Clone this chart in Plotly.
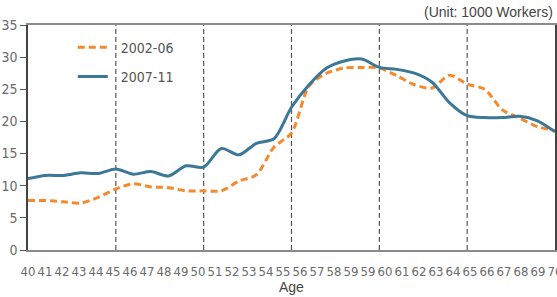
import plotly.graph_objects as go

ages = list(range(40, 71))
s0206 = [7.7, 7.7, 7.5, 7.3, 8.2, 9.5, 10.3, 9.8, 9.7, 9.2, 9.2, 9.2, 10.7, 11.7, 16.0,
         18.2, 25.5, 27.5, 28.3, 28.4, 28.3, 27.1, 25.7, 25.2, 27.2, 25.8, 25.0, 21.8, 20.5, 19.2, 18.6]
s0711 = [11.1, 11.6, 11.6, 12.0, 11.9, 12.6, 11.8, 12.2, 11.5, 13.1, 12.9, 15.8, 14.8, 16.6, 17.3,
         22.2, 25.7, 28.3, 29.4, 29.7, 28.4, 28.1, 27.5, 26.1, 22.9, 20.9, 20.6, 20.6, 20.8, 20.1, 18.4]
tick_labels = ["40", "41", "42", "43", "44", "45", "46", "47", "48", "49", "50", "51", "52", "53",
               "54", "55", "56", "57", "58", "59", "59", "60", "61", "62", "63", "64", "65", "66",
               "67", "68", "69", "70"]
divider_ages = [45, 50, 55, 60, 65]

n = len(tick_labels)
tick_vals = [round(40 + i * 30 / (n - 1), 6) for i in range(n)]

ORANGE = "#F7892A"
BLUE = "#3B7797"
FONT = "Liberation Sans Narrow, DejaVu Sans Condensed, sans-serif"

fig = go.Figure()
fig.add_trace(go.Scatter(x=ages, y=s0206, name="\u00a0\u00a02002-06", mode="lines", legendgroup="a",
                         line=dict(color=ORANGE, width=3, dash="7px,4px", shape="spline", smoothing=0.8)))
fig.add_trace(go.Scatter(x=ages, y=s0711, name="\u00a0\u00a02007-11", mode="lines", legendgroup="b",
                         line=dict(color=BLUE, width=3, shape="spline", smoothing=0.8)))

for a in divider_ages:
    fig.add_shape(type="line", xref="x", yref="paper", x0=a, x1=a, y0=0, y1=1,
                  line=dict(color="#555555", width=1.2, dash="5px,3px"), layer="below")

fig.update_layout(
    width=557, height=297,
    margin=dict(l=28, r=2, t=25, b=47, autoexpand=False),
    paper_bgcolor="white", plot_bgcolor="white",
    font=dict(family=FONT, size=13, color="#6a6a6a"),
    showlegend=True,
    legend=dict(x=0.085, y=0.97, xanchor="left", yanchor="top", bgcolor="rgba(0,0,0,0)",
                font=dict(family=FONT, size=14, color="#555555"), tracegroupgap=8,
                itemwidth=30),
    xaxis=dict(range=[40, 70.0001], tickvals=tick_vals, ticktext=tick_labels, tickangle=0,
               showgrid=False, zeroline=False, showline=True, linecolor="#8a8a8a", linewidth=2,
               mirror=True, ticks="outside", ticklen=8, tickcolor="rgba(0,0,0,0)",
               ticklabeloverflow="allow", automargin=False,
               tickfont=dict(family=FONT, size=13, color="#6a6a6a")),
    yaxis=dict(range=[0, 35], tickvals=[0, 5, 10, 15, 20, 25, 30, 35], showgrid=False,
               zeroline=False, showline=True, linecolor="#444444", linewidth=1.5, mirror=True,
               ticks="outside", ticklen=6, tickcolor="#555555", automargin=False,
               tickfont=dict(family=FONT, size=14, color="#6a6a6a")),
    annotations=[
        dict(text="Age", xref="paper", yref="paper", x=0.5, y=-0.165, xanchor="center",
             yanchor="middle", showarrow=False, font=dict(family="Liberation Sans, sans-serif", size=14, color="#444444")),
        dict(text="(Unit: 1000 Workers)", xref="paper", yref="paper", x=1.0, y=1.058,
             xanchor="right", yanchor="middle", showarrow=False,
             font=dict(family="Liberation Sans, sans-serif", size=14, color="#444444")),
    ],
)

fig.write_html("out.html", config={"displayModeBar": False},
               post_script="document.body.style.margin='0';document.body.style.overflow='hidden';")
